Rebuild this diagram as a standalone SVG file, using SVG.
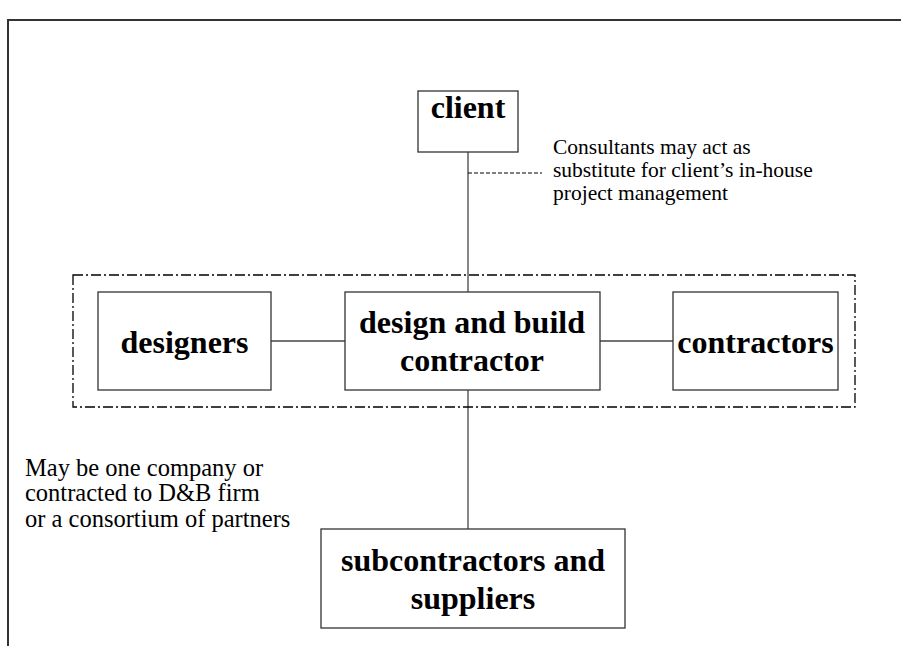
<svg xmlns="http://www.w3.org/2000/svg" width="901" height="646" viewBox="0 0 901 646">
<style>
.box{fill:#fff;stroke:#333;stroke-width:1.3}
.lbl{font-family:"Liberation Serif","Times New Roman",serif;font-weight:bold;font-size:32px;fill:#000;text-anchor:middle}
.note{font-family:"Liberation Serif","Times New Roman",serif;font-size:21.5px;fill:#000}
.note2{font-family:"Liberation Serif","Times New Roman",serif;font-size:24.5px;fill:#000}
.ln{stroke:#444;stroke-width:1.3;fill:none}
</style>
<rect width="901" height="646" fill="#fff"/>
<path d="M8,646 V20 H901" fill="none" stroke="#333" stroke-width="2"/>
<g id="connectors">
<line class="ln" x1="468" y1="152" x2="468" y2="292"/>
<line class="ln" x1="468" y1="390" x2="468" y2="529"/>
<line class="ln" x1="271" y1="341" x2="345" y2="341"/>
<line class="ln" x1="600" y1="341" x2="673" y2="341"/>
<line x1="468" y1="173" x2="542" y2="173" stroke="#000" stroke-width="1" stroke-dasharray="4,2"/>
</g>
<g id="group">
<rect x="73" y="275" width="782" height="132" fill="none" stroke="#000" stroke-width="1.3" stroke-dasharray="10,3,2,3"/>
</g>
<g id="client">
<rect class="box" x="418" y="91" width="100" height="61"/>
<text class="lbl" x="468" y="118">client</text>
</g>
<g id="designers">
<rect class="box" x="98" y="292" width="173" height="98"/>
<text class="lbl" x="184.5" y="353">designers</text>
</g>
<g id="dbcontractor">
<rect class="box" x="345" y="292" width="255" height="98"/>
<text class="lbl" x="472" y="333">design and build</text>
<text class="lbl" x="472" y="371">contractor</text>
</g>
<g id="contractors">
<rect class="box" x="673" y="292" width="165" height="98"/>
<text class="lbl" x="755.5" y="353">contractors</text>
</g>
<g id="subcontractors">
<rect class="box" x="321" y="529" width="304" height="99"/>
<text class="lbl" x="473" y="571">subcontractors and</text>
<text class="lbl" x="473" y="609">suppliers</text>
</g>
<g id="note-consultants">
<text class="note" x="553" y="154">Consultants may act as</text>
<text class="note" x="553" y="177">substitute for client’s in-house</text>
<text class="note" x="553" y="200">project management</text>
</g>
<g id="note-company">
<text class="note2" x="25" y="476">May be one company or</text>
<text class="note2" x="25" y="501">contracted to D&amp;B firm</text>
<text class="note2" x="25" y="527">or a consortium of partners</text>
</g>
</svg>
